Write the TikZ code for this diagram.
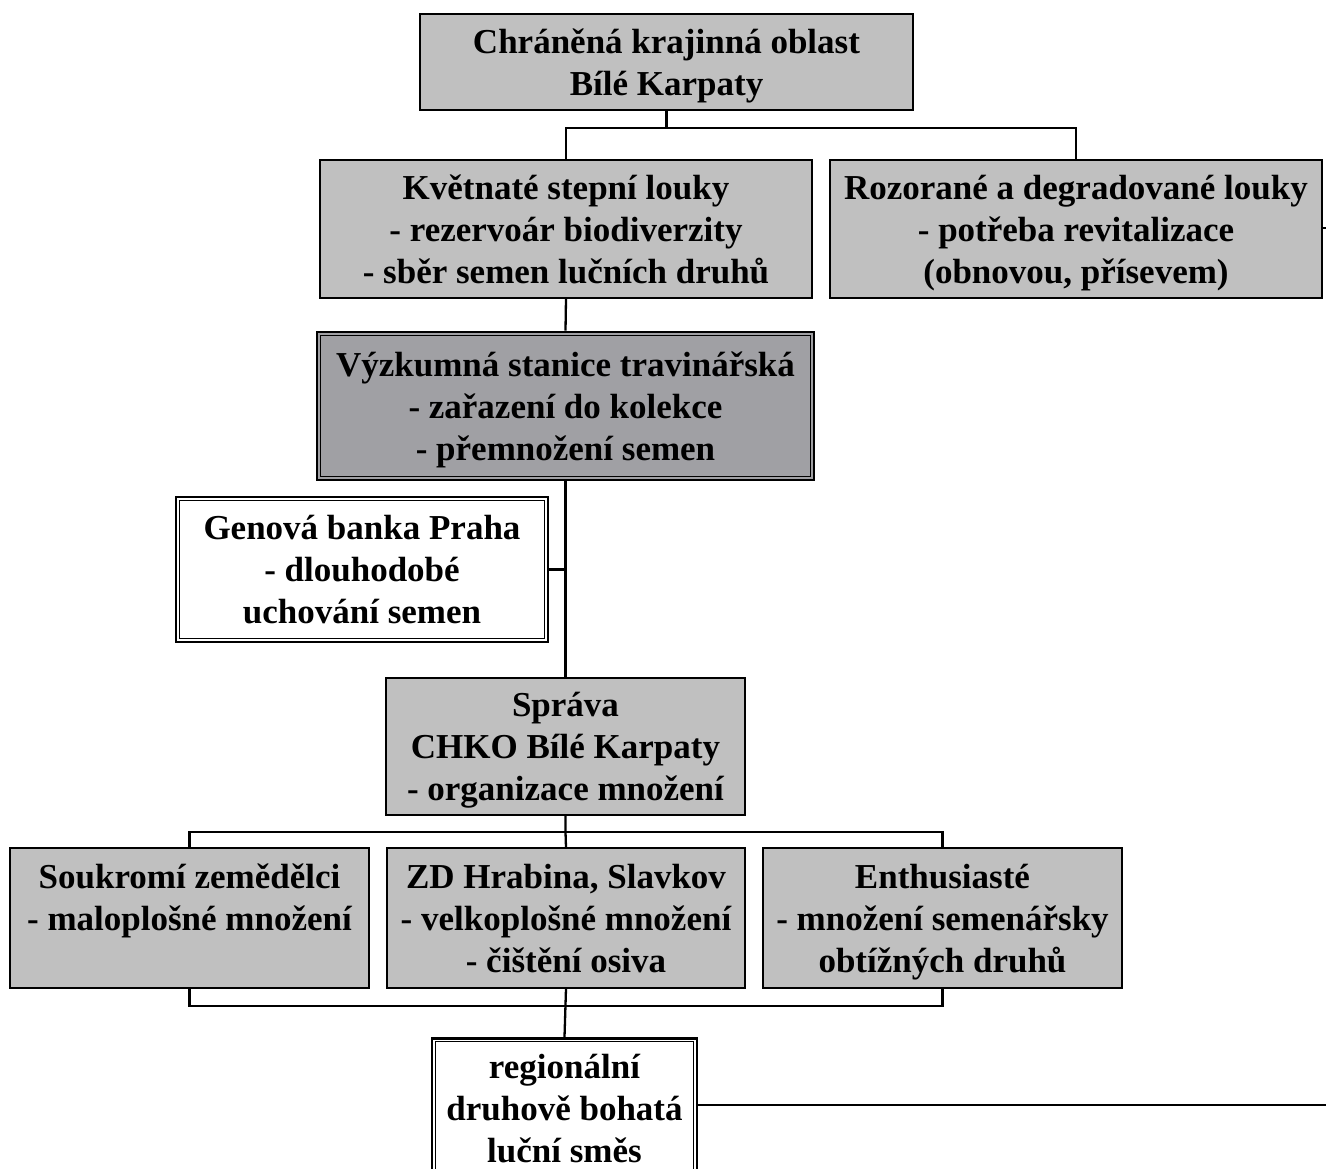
\documentclass[tikz,border=0pt]{standalone}
\usepackage{fontspec}
\setmainfont{Liberation Serif}
\usepackage{xcolor}
\usetikzlibrary{positioning,calc}
\definecolor{boxgray}{RGB}{192,192,192}
\definecolor{darkgray}{RGB}{160,160,164}
\tikzset{
  box/.style={draw, line width=1.4pt, fill=boxgray, inner sep=0pt, align=center, text depth=-3pt,
    font=\fontsize{35}{42}\selectfont\bfseries},
  darkbox/.style={box, fill=darkgray, line width=2.6pt},
  whitebox/.style={box, fill=white, line width=2.6pt},
  conn/.style={line width=2.3pt}
}
\begin{document}
\begin{tikzpicture}[x=1pt,y=-1pt]
    \useasboundingbox (0,0) rectangle (1326,1169);
    \clip (0,0) rectangle (1326,1169);

    % Top level
    \node[box, minimum width=493, minimum height=96] (chko) at (666.5,62) {Chráněná krajinná oblast\\Bílé Karpaty};
    \node[box, minimum width=492, minimum height=138] (kvetnate) at (566,229) {Květnaté stepní louky\\- rezervoár biodiverzity\\- sběr semen lučních druhů};
    \node[box, minimum width=492, minimum height=138] (rozorane) at (1076,229) {Rozorané a degradované louky\\- potřeba revitalizace\\(obnovou, přísevem)};

    % Research station and gene bank
    \node[darkbox, minimum width=497, minimum height=148] (vyzkum) at (565.5,406) {Výzkumná stanice travinářská\\- zařazení do kolekce\\- přemnožení semen};
    \node[whitebox, minimum width=372, minimum height=145] (genbanka) at (362,569.5) {Genová banka Praha\\- dlouhodobé\\uchování semen};

    % Administration
    \node[box, minimum width=359, minimum height=137] (sprava) at (565.5,746.5) {Správa\\CHKO Bílé Karpaty\\- organizace množení};

    % Growers
    \node[box, minimum width=359, minimum height=140] (soukromi) at (189.5,918) {Soukromí zemědělci\\- maloplošné množení\\\phantom{- čištění osiva}};
    \node[box, minimum width=358, minimum height=140] (zd) at (566,918) {ZD Hrabina, Slavkov\\- velkoplošné množení\\- čištění osiva};
    \node[box, minimum width=359, minimum height=140] (enthus) at (942.5,918) {Enthusiasté\\- množení semenářsky\\obtížných druhů};

    % Result
    \node[whitebox, minimum width=265, minimum height=150, anchor=north] (smes) at (564.5,1037) {};
    \node[align=center, inner sep=0pt, text depth=-3pt, font=\fontsize{35}{42}\selectfont\bfseries] (smestxt) at (564.5,1108) {regionální\\druhově bohatá\\luční směs};

    % inner lines of the double frames
    \foreach \n in {vyzkum,genbanka,smes}
        \draw[line width=0.8pt] ([shift={(4.5pt,-4.5pt)}]\n.north west) rectangle ([shift={(-4.5pt,4.5pt)}]\n.south east);

    % Connectors
    \coordinate (j1) at (chko.south |- 0,128);
    \draw[conn] (chko.south) -- (j1) -| (kvetnate.north);
    \draw[conn] (j1) -| (rozorane.north);
    \coordinate (stub) at (1330,228);
    \draw[conn] (rozorane.east |- stub) -- (stub);
    \draw[conn] (kvetnate.south) -- (vyzkum.north);
    \draw[conn] (vyzkum.south) -- (sprava.north);
    \draw[conn] (genbanka.east) -- (genbanka.east -| vyzkum.south);
    \coordinate (j2) at (sprava.south |- 0,832);
    \draw[conn] (sprava.south) -- (j2) -- (zd.north);
    \draw[conn] (soukromi.north) |- (j2) -| (enthus.north);
    \coordinate (j3) at (zd.south |- 0,1006);
    \draw[conn] (soukromi.south) |- (j3) -| (enthus.south);
    \draw[conn] (zd.south) -- (smes.north);
    \coordinate (out) at (1330,1105);
    \draw[conn] (smes.east |- out) -- (out);
\end{tikzpicture}
\end{document}
